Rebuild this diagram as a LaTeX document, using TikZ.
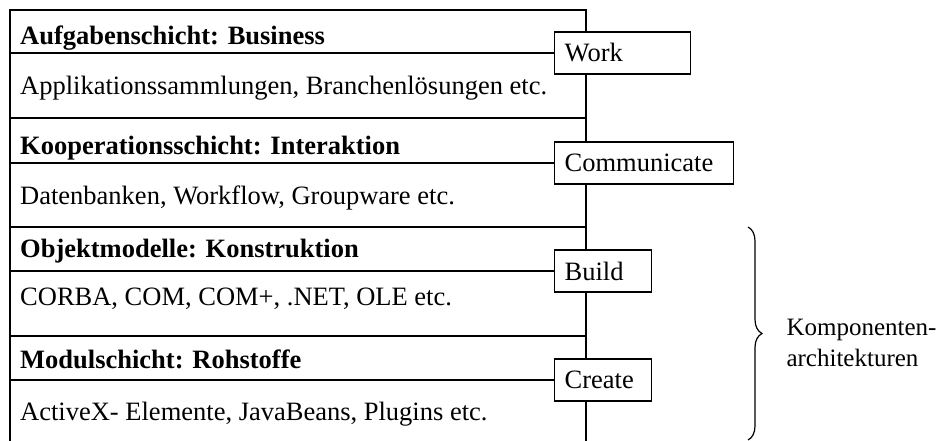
\documentclass[tikz,border=0pt]{standalone}
\usepackage{fontspec}
\setmainfont{Liberation Serif}
\usetikzlibrary{positioning,decorations.pathreplacing}

\begin{document}
\begin{tikzpicture}[x=1pt, y=-1pt,
    every node/.style={font=\fontsize{26.5}{30}\selectfont},
    title/.style={anchor=base west, inner sep=0pt, font=\fontsize{26.5}{30}\selectfont\bfseries},
    body/.style={anchor=base west, inner sep=0pt},
    role/.style={draw, line width=1.3pt, fill=white, anchor=west, minimum height=42pt, inner xsep=10pt, align=left},
    rule/.style={line width=1.3pt}]
    \useasboundingbox (0,0) rectangle (947,441);

    % Frame
    \coordinate (topleft) at (10,10);
    \coordinate (topright) at (586,10);
    \draw[rule] (10,441) -- (topleft) -- (topright) -- (586,441);
    \draw[rule] (10,118) -- (586,118);
    \draw[rule] (10,227) -- (586,227);
    \draw[rule] (10,336) -- (586,336);

    % Layers
    \node[title] (business) at (20,45) {Aufgabenschicht: Business};
    \node[body] (apps) at (20,95) {Applikationssammlungen, Branchenlösungen etc.};
    \node[title] (interaction) at (20,154) {Kooperationsschicht: Interaktion};
    \node[body] (groupware) at (20,204) {Datenbanken, Workflow, Groupware etc.};
    \node[title] (construction) at (20,257) {Objektmodelle: Konstruktion};
    \node[body] (models) at (20,305) {CORBA, COM, COM+, .NET, OLE etc.};
    \node[title] (rawmaterial) at (20,368) {Modulschicht: Rohstoffe};
    \node[body] (elements) at (20,420) {ActiveX- Elemente, JavaBeans, Plugins etc.};

    % Roles
    \node[role, text width=116pt] (work) at (554,53) {Work};
    \node[role, text width=159pt] (communicate) at (554,163) {Communicate};
    \node[role, text width=77pt] (build) at (554,271) {Build};
    \node[role, text width=77pt] (create) at (554,380) {Create};

    % Header lines
    \draw[rule] (work.west) -- (work.west -| topleft);
    \draw[rule] (communicate.west) -- (communicate.west -| topleft);
    \draw[rule] (build.west) -- (build.west -| topleft);
    \draw[rule] (create.west) -- (create.west -| topleft);

    % Brace
    \coordinate (bracetop) at (748,227);
    \coordinate (bracebottom) at (748,440);
    \draw[line width=1.2pt, decorate, decoration={brace, amplitude=14pt}] (bracetop) -- (bracebottom);
    \node[anchor=west, align=left, font=\fontsize{25}{31}\selectfont] (components) at (783,343) {Komponenten-\\architekturen};
\end{tikzpicture}
\end{document}
